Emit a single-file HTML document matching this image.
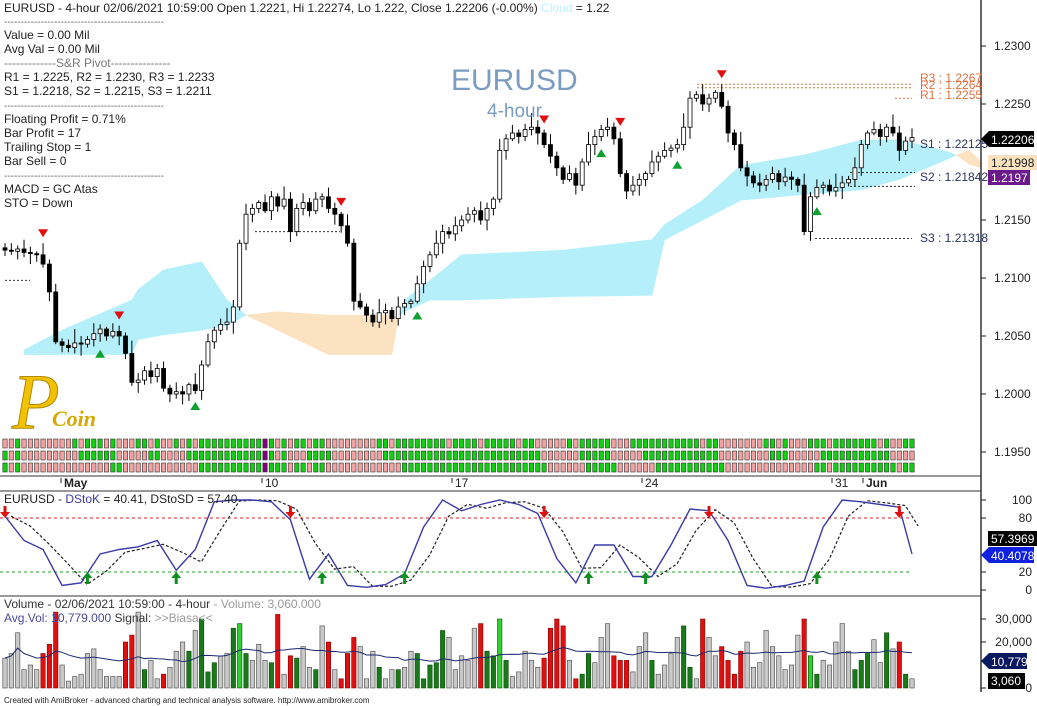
<!DOCTYPE html>
<html><head><meta charset="utf-8"><style>
body{margin:0;background:#fff;}
svg{display:block;font-family:"Liberation Sans",sans-serif;}
</style></head><body>
<svg id="chart" width="1037" height="706" viewBox="0 0 1037 706">
<rect x="0" y="0" width="1037" height="706" fill="#fff"/>
<g id="cloud"></g>
<g id="lines"></g>
<g id="candles"></g>
<g id="strips"></g>
<g id="stoch"></g>
<g id="vol"></g>
<g id="marks"></g>

<!-- panel frames -->
<line x1="0" y1="476" x2="981" y2="476" stroke="#333"/>
<line x1="0" y1="491" x2="981" y2="491" stroke="#333"/>
<line x1="0" y1="596" x2="981" y2="596" stroke="#333"/>
<line x1="981" y1="0" x2="981" y2="692" stroke="#333" stroke-width="1.5"/>

<g font-size="12" fill="#222">
<text x="4" y="12">EURUSD - 4-hour 02/06/2021 10:59:00 Open 1.2221, Hi 1.22274, Lo 1.222, Close 1.22206 (-0.00%) <tspan fill="#bfefff">Cloud</tspan> = 1.22</text>
<text x="4" y="25" fill="#666" font-size="10">------------------------------------------------</text>
<text x="4" y="39">Value = 0.00 Mil</text>
<text x="4" y="53">Avg Val = 0.00 Mil</text>
<text x="4" y="67" fill="#777">-------------S&amp;R Pivot---------------</text>
<text x="4" y="81">R1 = 1.2225, R2 = 1.2230, R3 = 1.2233</text>
<text x="4" y="95">S1 = 1.2218, S2 = 1.2215, S3 = 1.2211</text>
<text x="4" y="109" fill="#666" font-size="10">------------------------------------------------</text>
<text x="4" y="123">Floating Profit = 0.71%</text>
<text x="4" y="137">Bar Profit = 17</text>
<text x="4" y="151">Trailing Stop = 1</text>
<text x="4" y="165">Bar Sell = 0</text>
<text x="4" y="179" fill="#666" font-size="10">------------------------------------------------</text>
<text x="4" y="193">MACD =  GC Atas</text>
<text x="4" y="207">STO  =  Down</text>
</g>
<text x="451" y="90" font-size="30" fill="#7b9cc0">EURUSD</text>
<text x="487" y="117" font-size="19" fill="#7b9cc0">4-hour</text>

<g>
<text x="12" y="428" font-size="78" font-style="italic" font-family="Liberation Serif,serif" fill="#f2c200" stroke="#b08a00" stroke-width="1">P</text>
<text x="52" y="426" font-size="22" font-style="italic" font-weight="bold" font-family="Liberation Serif,serif" fill="#d9a800">Coin</text>
</g>

<g font-size="12" fill="#e07040">
<text x="920" y="82">R3 : 1.2267</text>
<text x="920" y="89">R2 : 1.2264</text>
<text x="920" y="99">R1 : 1.2255</text>
<text x="920" y="148" fill="#2a3560">S1 : 1.22125</text>
<text x="920" y="181" fill="#2a3560">S2 : 1.21842</text>
<text x="920" y="242" fill="#2a3560">S3 : 1.21318</text>
</g>
<rect x="912" y="60" width="69" height="200" fill="none"/>

<g id="axis" font-size="12" fill="#222"></g>

<g font-size="12">
<polygon points="981,139 989,131 1034,131 1034,147 989,147" fill="#000"/>
<text x="991" y="144" fill="#fff">1.22206</text>
<rect x="988" y="155" width="49" height="15" fill="#fbe3c2"/>
<text x="991" y="167" fill="#222">1.21998</text>
<rect x="988" y="170" width="42" height="15" fill="#6a1a8a"/>
<text x="991" y="182" fill="#fff">1.2197</text>
<rect x="988" y="531" width="49" height="15" fill="#000"/>
<text x="991" y="543" fill="#fff">57.3969</text>
<polygon points="981,555 989,547 1034,547 1034,563 989,563" fill="#1020e0"/>
<text x="991" y="560" fill="#fff">40.4078</text>
<polygon points="981,661 989,653 1027,653 1027,669 989,669" fill="#0a1a60"/>
<text x="991" y="666" fill="#fff">10,779</text>
<rect x="988" y="673" width="37" height="16" fill="#000"/>
<text x="991" y="685" fill="#fff">3,060</text>
</g>

<g font-size="12" fill="#222">
<text x="64" y="487" font-weight="bold">May</text>
<text x="265" y="487">10</text>
<text x="455" y="487">17</text>
<text x="645" y="487">24</text>
<text x="835" y="487">31</text>
<text x="866" y="487" font-weight="bold">Jun</text>
<path d="M61 478v5M262 478v5M452 478v5M642 478v5M832 478v5M863 478v5" stroke="#222"/>
</g>

<text x="4" y="503" font-size="12" fill="#222">EURUSD - <tspan fill="#3a3aa8">DStoK</tspan> = 40.41, DStoSD = 57.40</text>
<text x="4" y="608" font-size="12" fill="#333">Volume - 02/06/2021 10:59:00 - 4-hour  <tspan fill="#999">- Volume: 3,060.000</tspan></text>
<text x="4" y="622" font-size="12" fill="#4a4a9a">Avg.Vol: 10,779.000   <tspan fill="#333">Signal:</tspan> <tspan fill="#999">&gt;&gt;Biasa&lt;&lt;</tspan></text>
<text x="4" y="703" font-size="8" fill="#222">Created with AmiBroker - advanced charting and technical analysis software. http://www.amibroker.com</text>
</svg>
<script>
// ===== data (pips above 1.2000) =====
const closes=[124,123,125,122,121,120,112,88,45,42,40,44,43,47,52,56,50,54,50,35,10,12,20,15,22,5,0,2,0,8,3,25,45,55,60,62,75,130,155,160,165,158,170,162,168,140,160,165,158,168,170,160,155,145,130,80,75,68,62,70,72,65,75,78,80,95,110,120,130,140,138,145,150,155,158,150,160,168,210,220,225,222,228,230,225,215,205,195,185,190,180,200,215,222,228,230,220,190,175,180,185,190,200,205,210,212,215,230,255,258,250,255,260,248,225,215,195,188,182,180,185,190,183,187,185,180,140,170,178,180,175,178,182,185,195,215,225,228,222,230,225,210,218,221];
const wickUp=[4,6,3,8,5,2,10,4,7,3,5,12,6,3,9,4,2,7,5,3,11,6,4,8];
const wickDn=[5,3,7,4,9,6,3,8,2,6,4,5,10,3,6,7,4,2,8,5,3,9,4,6];
const volumes=[13,15,24,8,10,8,15,19,33,10,3,5,6,15,17,8,5,5,5,20,23,33,8,12,4,6,9,16,20,16,25,30,7,11,14,15,26,28,15,12,19,12,11,32,6,14,13,18,9,8,27,20,8,4,15,22,18,4,16,9,4,8,8,9,16,15,4,10,11,25,22,8,14,12,26,28,16,14,30,12,5,7,16,12,9,13,26,30,27,12,4,6,15,11,22,28,14,12,12,7,18,24,12,6,10,15,22,27,9,4,30,22,14,18,12,6,16,20,9,11,25,18,14,8,10,23,30,14,6,12,10,20,28,16,8,12,15,21,11,24,17,20,6,4];
const stochK=[82,55,45,5,8,40,45,48,55,22,45,98,100,100,98,78,12,40,5,3,6,18,70,100,88,95,100,95,85,35,8,50,50,15,15,50,90,88,55,5,2,5,10,70,100,98,95,92,40];
const cloudIdx=[3,9,20,21,25,31,35,38,43,51,61,62,63,67,72,88,102,104,110,116,126,135,141,148,150,152,154];
const spanA=[38,55,81,90,107,114,81,68,55,34,34,65,81,98,120,124,133,146,167,197,206,219,219,210,206,198,195];
const spanB=[34,34,34,47,51,55,59,68,71,68,68,66,71,81,81,84,85,133,150,167,172,176,185,201,206,210,200];
const sellSignals=[6,18,53,85,97,113];
const buySignals=[15,30,65,94,106,128];
const stochSell=[0,45,85,111,141];
const stochBuy=[13,27,50,63,92,101,128];
const priceTicks=[1.2300,1.2250,1.2150,1.2100,1.2050,1.2000,1.1950];
const stochTicks=[100,80,20,0];
const volTicks=[30000,20000,0];

// ===== scales =====
const NS='http://www.w3.org/2000/svg';
const N=closes.length;
const xs=i=>5+i*(907/(N-1));
const yp=p=>46+(300-p)*1.16;
const ys=v=>590-v*0.9;
const yv=v=>688-v*2.3;
function el(tag,attrs,parent){const e=document.createElementNS(NS,tag);for(const k in attrs)e.setAttribute(k,attrs[k]);document.getElementById(parent).appendChild(e);return e;}

// cloud
for(let k=0;k<cloudIdx.length-1;k++){
  const x1=xs(cloudIdx[k]),x2=xs(cloudIdx[k+1]);
  const up=(spanA[k]+spanA[k+1])>=(spanB[k]+spanB[k+1]);
  const q=el('polygon',{points:`${x1},${yp(spanA[k])} ${x2},${yp(spanA[k+1])} ${x2},${yp(spanB[k+1])} ${x1},${yp(spanB[k])}`,fill:up?'#b5f0fa':'#fbe3c2',stroke:up?'#b5f0fa':'#fbe3c2','stroke-width':0.6},'cloud');
  
  
}

// dashed lines
const dl=[[5,30,yp(98),'#333'],[255,340,yp(140),'#333'],[815,912,yp(134),'#333'],[850,915,yp(179),'#333'],[850,915,yp(191),'#333'],[697,912,yp(267),'#e07040'],[697,912,yp(264),'#e07040'],[895,912,yp(255),'#e07040']];
dl.forEach(d=>{const l=el('line',{x1:d[0],x2:d[1],y1:d[2],y2:d[2],stroke:d[3],'stroke-dasharray':'2,2'},'lines');
  
  });

// candles
const opens=closes.map((c,i)=>i?closes[i-1]:c+2);
for(let i=0;i<N;i++){
  const o=opens[i],c=closes[i],x=xs(i);
  const hi=Math.max(o,c)+wickUp[i%wickUp.length],lo=Math.min(o,c)-wickDn[i%wickDn.length];
  const w=el('line',{x1:x,x2:x,y1:yp(hi),y2:yp(lo),stroke:'#000'},'candles');
  
  
  const top=yp(Math.max(o,c)),bot=yp(Math.min(o,c));
  const b=el('rect',{x:x-2,y:top,width:4,height:Math.max(1,bot-top),fill:c>=o?'#fff':'#000',stroke:'#000','stroke-width':0.8},'candles');
  
  
}

// strips
for(let i=0;i<N;i++){
  const x=xs(i);
  let sma=0,n=0;for(let j=Math.max(0,i-9);j<=i;j++){sma+=closes[j];n++;}sma/=n;
  const rows=[closes[i]>=opens[i],closes[i]>=closes[Math.max(0,i-3)],closes[i]>=sma];
  rows.forEach((g,r)=>{
    const s=el('rect',{x:x-2.2,y:439+r*12,width:4.4,height:9,fill:i===41?'#800080':(g?'#10d010':'#f4a0a0'),stroke:'#333','stroke-width':0.6},'strips');
    
    
  });
}

// stochastic
const kIdx=stochK.map((v,k)=>Math.min(N-1,k*3));
const stochD=stochK.map((v,k)=>k===0?v:(stochK[k-1]*0.6+v*0.4));
const ref=[[80,'#d02020'],[20,'#20a020']];
ref.forEach(r=>{const l=el('line',{x1:0,x2:912,y1:ys(r[0]),y2:ys(r[0]),stroke:r[1],'stroke-dasharray':'3,3'},'stoch');
  
  });
const dPath=el('polyline',{points:stochD.map((v,k)=>`${xs(kIdx[k])+6},${ys(v)}`).join(' '),fill:'none',stroke:'#222','stroke-dasharray':'3,2','stroke-width':1.2},'stoch');


const kPath=el('polyline',{points:stochK.map((v,k)=>`${xs(kIdx[k])},${ys(v)}`).join(' '),fill:'none',stroke:'#3a3aa8','stroke-width':1.4},'stoch');



// volume
const avg=[];
for(let i=0;i<N;i++){let s=0,n=0;for(let j=Math.max(0,i-19);j<=i;j++){s+=volumes[j];n++;}avg.push(s/n);}
for(let i=0;i<N;i++){
  const d=closes[i]-opens[i],x=xs(i);
  let fill='#c8c8c8',stroke='#444';
  if(d>=8){fill=d>=30?'#30d030':'#1a7a1a';stroke='#0a4a0a';}else if(d<=-8){fill='#e01010';stroke='#800';}
  const v=el('rect',{x:x-2.2,y:yv(volumes[i]),width:4.4,height:volumes[i]*2.3,fill,stroke,'stroke-width':0.6},'vol');
  
  
}
const av=el('polyline',{points:avg.map((v,i)=>`${xs(i)},${yv(v)}`).join(' '),fill:'none',stroke:'#1a2a70','stroke-width':1},'vol');



// signal markers
sellSignals.forEach(i=>{const x=xs(i),y=yp(Math.max(opens[i],closes[i])+wickUp[i%wickUp.length])-10;
  const t=el('polygon',{points:`${x-5},${y-4} ${x+5},${y-4} ${x},${y+4}`,fill:'#e01010'},'marks');
  
  });
buySignals.forEach(i=>{const x=xs(i),y=yp(Math.min(opens[i],closes[i])-wickDn[i%wickDn.length])+12;
  const t=el('polygon',{points:`${x-5},${y+4} ${x+5},${y+4} ${x},${y-4}`,fill:'#10a030'},'marks');
  
  });
stochSell.forEach(i=>{const x=xs(i);
  const a=el('path',{d:`M${x-1.5} 506v6h-3.5l5 6 5-6h-3.5v-6z`,fill:'#e01010'},'marks');
  
  });
stochBuy.forEach(i=>{const x=xs(i);
  const a=el('path',{d:`M${x-1.5} 584v-6h-3.5l5-6 5 6h-3.5v6z`,fill:'#109020'},'marks');
  
  });

// axes
priceTicks.forEach(p=>{const y=yp((p-1.2)*10000);
  const t=el('line',{x1:981,x2:986,y1:y,y2:y,stroke:'#222'},'axis');
  
  
  const tx=el('text',{x:994,y:y+4},'axis');tx.textContent=p.toFixed(4);
  
  });
stochTicks.forEach(v=>{const y=ys(v);
  const t=el('line',{x1:981,x2:986,y1:y,y2:y,stroke:'#222'},'axis');
  
  
  const tx=el('text',{x:1032,y:y+4,'text-anchor':'end'},'axis');tx.textContent=v;
  
  });
volTicks.forEach(v=>{const y=yv(v/1000);
  const t=el('line',{x1:981,x2:986,y1:y,y2:y,stroke:'#222'},'axis');
  
  
  const tx=el('text',{x:1032,y:y+4,'text-anchor':'end'},'axis');tx.textContent=v.toLocaleString('en-US');
  
  });
</script>
</body></html>
